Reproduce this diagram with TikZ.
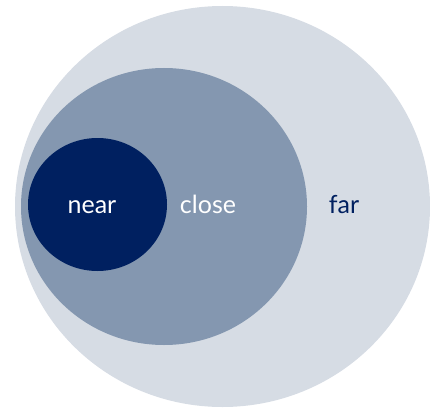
\documentclass[tikz,border=0pt]{standalone}
\usepackage{fontspec}
\setmainfont{Lato}
\usetikzlibrary{shapes.geometric}
\definecolor{farGray}{RGB}{214,220,228}
\definecolor{closeGray}{RGB}{132,151,176}
\definecolor{nearBlue}{RGB}{0,32,96}

\begin{document}
\begin{tikzpicture}[x=1pt,y=-1pt,
    zone/.style={ellipse,inner sep=0pt,draw=none},
    lbl/.style={anchor=base,font=\fontsize{25}{30}\selectfont}
  ]
  \useasboundingbox (0,0) rectangle (430,409);
  \node[zone,fill=farGray,minimum width=415pt,minimum height=401pt] (far) at (222.5,206.5) {};
  \node[zone,fill=closeGray,minimum width=286pt,minimum height=277pt] (close) at (164,206.5) {};
  \node[zone,fill=nearBlue,minimum width=139pt,minimum height=133pt] (near) at (97.5,204.5) {};

  \node[lbl,text=white] (nearlbl) at (92,213) {near};
  \node[lbl,text=white] (closelbl) at (208,213) {close};
  \node[lbl,text=nearBlue] (farlbl) at (344,213) {far};
\end{tikzpicture}
\end{document}
